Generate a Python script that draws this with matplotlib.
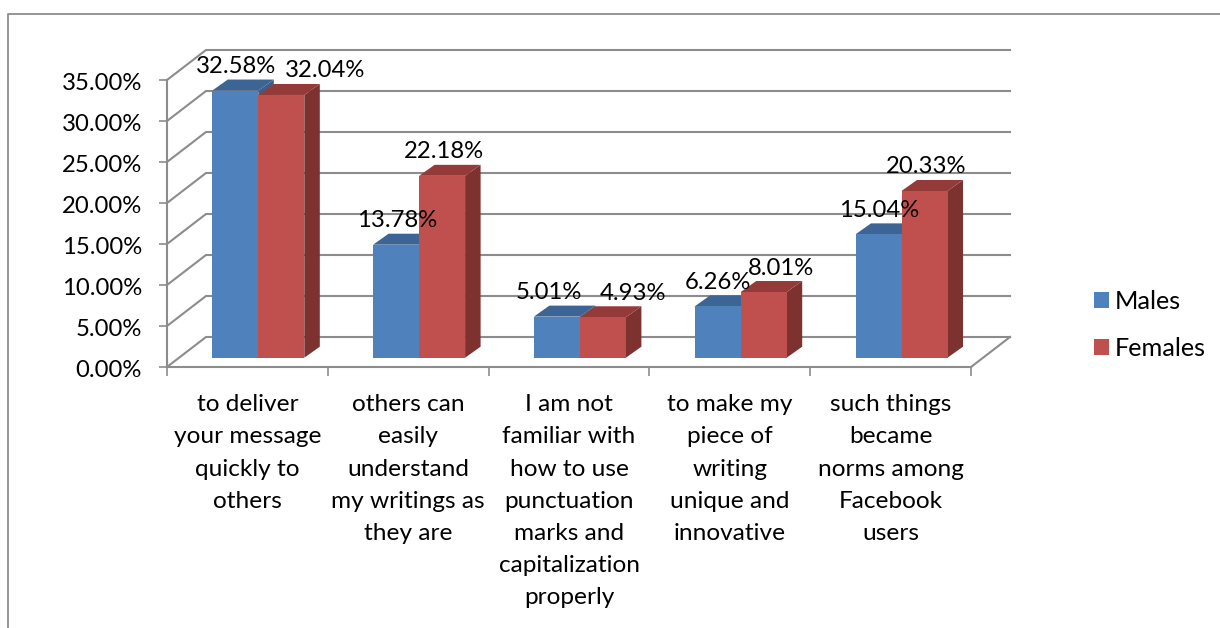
import matplotlib
matplotlib.use("Agg")
import matplotlib.pyplot as plt
from matplotlib.lines import Line2D
from matplotlib.patches import Polygon
from matplotlib.transforms import Affine2D
import numpy as np

plt.rcParams['font.family'] = ['Lato', 'DejaVu Sans']

categorias = ["to deliver\nyour message\nquickly to\nothers",
              "others can\neasily\nunderstand\nmy writings as\nthey are",
              "I am not\nfamiliar with\nhow to use\npunctuation\nmarks and\ncapitalization\nproperly",
              "to make my\npiece of\nwriting\nunique and\ninnovative",
              "such things\nbecame\nnorms among\nFacebook\nusers"]
males = [32.58, 13.78, 5.01, 6.26, 15.04]
females = [32.04, 22.18, 4.93, 8.01, 20.33]
y_ticks = [0, 5, 10, 15, 20, 25, 30, 35]

# corrimiento horizontal de las etiquetas (pixeles)
nudge_m = [1, 1, -8, 0, 1]
nudge_f = [44, 2, 30, 17, 2]

W, H = 1220, 628
fig = plt.figure(figsize=(W / 100, H / 100), dpi=100, facecolor='white')
ax = fig.add_axes([167 / W, (H - 367) / H, 804 / W, 287 / H])
ax.patch.set_visible(False)
ax.set_xlim(-0.5, 4.5)
ax.set_ylim(0, 35)

# pixeles -> unidades de datos
sx = 5 / 804
sy = 35 / 287
gris = '#8c8c8c'

# pared del fondo y piso
wall_dx, wall_dy = 39 * sx, 30 * sy
for v in y_ticks:
    ax.plot([-0.5, -0.5 + wall_dx, 4.5 + wall_dx], [v, v + wall_dy, v + wall_dy],
            color=gris, lw=1.5, clip_on=False, zorder=1, solid_joinstyle='miter')
ax.plot([4.5, 4.5 + wall_dx], [0, wall_dy], color=gris, lw=1.5, clip_on=False, zorder=1)

# barras con cara lateral y tapa
x = np.arange(len(categorias))
bw = 46 * sx
shift = 10.9 * 5 / 804
lift = 9.3 * sy
dep_x, dep_y = 15.5 * sx, 11 * sy


def barras(x_izq, vals, frente, lado, tapa, nombre, z):
    for xi, v in zip(x_izq, vals):
        top = lift + v
        ax.add_patch(Polygon([(xi + bw, lift), (xi + bw + dep_x, lift + dep_y),
                              (xi + bw + dep_x, top + dep_y), (xi + bw, top)],
                             facecolor=lado, edgecolor='none', clip_on=False, zorder=z))
        ax.add_patch(Polygon([(xi, top), (xi + dep_x, top + dep_y),
                              (xi + bw + dep_x, top + dep_y), (xi + bw, top)],
                             facecolor=tapa, edgecolor='none', clip_on=False, zorder=z))
    return ax.bar(x_izq, vals, width=bw, bottom=lift, align='edge', color=frente,
                  label=nombre, clip_on=False, zorder=z + 0.5)


barras(x + shift - bw, males, '#4f81bd', '#3a5f8b', '#3c6494', 'Males', 2)
barras(x + shift, females, '#c0504d', '#7d3230', '#943b39', 'Females', 3)

# etiquetas de datos
for xi, v, n in zip(x + shift - bw / 2, males, nudge_m):
    ax.annotate(f"{v:.2f}%", (xi, lift + v), xytext=(n * 0.72, 24 * 0.72),
                textcoords='offset points', ha='center', va='center', fontsize=17.2, zorder=6)
for xi, v, n in zip(x + shift + bw / 2, females, nudge_f):
    ax.annotate(f"{v:.2f}%", (xi, lift + v), xytext=(n * 0.72, 24 * 0.72),
                textcoords='offset points', ha='center', va='center', fontsize=17.2, zorder=6)

# ejes
for s in ['top', 'right']:
    ax.spines[s].set_visible(False)
for s in ['left', 'bottom']:
    ax.spines[s].set_color(gris)
    ax.spines[s].set_linewidth(1.5)
    ax.spines[s].set_zorder(1)
ax.set_yticks(y_ticks)
ax.set_yticklabels([f"{v:.2f}%" for v in y_ticks])
ax.tick_params(axis='y', length=6, width=1.2, color=gris, pad=12, labelsize=17.2)
for lbl in ax.get_yticklabels():
    lbl.set_transform(lbl.get_transform() + Affine2D().translate(0, -1.5))
ax.set_xticks(np.arange(-0.5, 5, 1))
ax.set_xticklabels([])
ax.tick_params(axis='x', which='major', length=6.5, width=1.2, color=gris)
ax.set_xticks(x, minor=True)
ax.set_xticklabels(categorias, minor=True, fontsize=17.6, linespacing=1.66)
ax.tick_params(axis='x', which='minor', length=0, pad=19.5)

# leyenda
ax.legend(loc='center left', bbox_to_anchor=(1094 / W, (H - 325) / H),
          bbox_transform=fig.transFigure, frameon=False, fontsize=18.2,
          handlelength=0.6, handleheight=0.6, handletextpad=0.22, labelspacing=0.97,
          borderpad=0, borderaxespad=0)

# marco exterior
fig.add_artist(Line2D([8 / W, 8 / W, 1], [0, (H - 14) / H, (H - 14) / H], color='#8c8c8c', lw=1.3))

fig.savefig('out.png', dpi=100)
